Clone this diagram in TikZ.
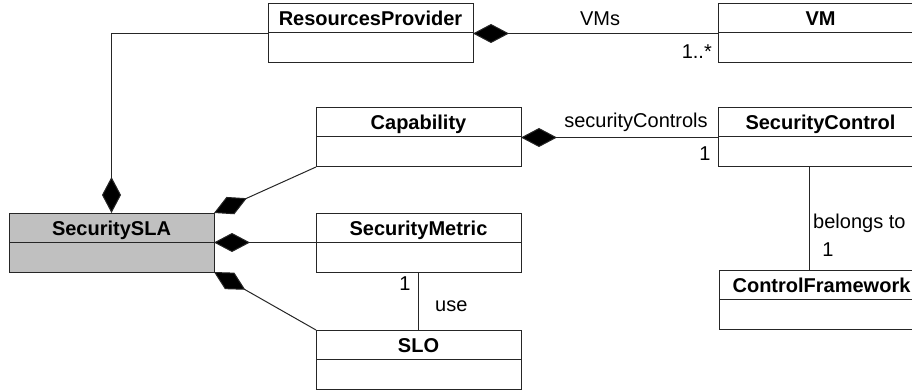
\documentclass[tikz,border=0pt]{standalone}
\usepackage{fontspec}
\setmainfont{Liberation Sans}
\usetikzlibrary{arrows.meta}
\definecolor{linec}{HTML}{262626}
\definecolor{slafill}{HTML}{C0C0C0}
\tikzset{
  umlbox/.style={draw=linec, line width=1pt, fill=white, rectangle, inner sep=0pt, outer sep=0pt,
    minimum width=205pt, minimum height=59pt, anchor=north west},
  titletext/.style={font=\fontsize{20}{24}\selectfont\bfseries, text=black, inner sep=0pt, anchor=base},
  lbl/.style={font=\fontsize{20}{24}\selectfont, text=black, inner sep=0pt},
  conn/.style={draw=linec, line width=1pt},
  comp/.style={conn, {Diamond[length=36pt,width=19pt,fill=black]}-}
}
\newcommand{\umldivider}[1]{\draw[conn] ([yshift=-29pt]#1.north west) -- ([yshift=-29pt]#1.north east);}
\begin{document}
\begin{tikzpicture}[x=1pt,y=-1pt]
\useasboundingbox (0,0) rectangle (912,390);
\clip (0,0) rectangle (912,390);
% boxes
\node[umlbox] (rp) at (268,4) {};
\node[umlbox] (vm) at (718,4) {};
\node[umlbox] (cap) at (316,108) {};
\node[umlbox] (sc) at (718,108) {};
\node[umlbox, fill=slafill] (sla) at (9,213) {};
\node[umlbox] (sm) at (316,213) {};
\node[umlbox] (slo) at (316,330) {};
\node[umlbox] (cf) at (719,270) {};
\umldivider{rp}
\umldivider{vm}
\umldivider{cap}
\umldivider{sc}
\umldivider{sla}
\umldivider{sm}
\umldivider{slo}
\umldivider{cf}
% titles
\node[titletext] (rpT) at ([yshift=-22pt]rp.north) {ResourcesProvider};
\node[titletext] (vmT) at ([yshift=-22pt]vm.north) {VM};
\node[titletext] (capT) at ([yshift=-22pt]cap.north) {Capability};
\node[titletext] (scT) at ([yshift=-22pt]sc.north) {SecurityControl};
\node[titletext] (slaT) at ([yshift=-22pt]sla.north) {SecuritySLA};
\node[titletext] (smT) at ([yshift=-22pt]sm.north) {SecurityMetric};
\node[titletext] (sloT) at ([yshift=-22pt]slo.north) {SLO};
\node[titletext] (cfT) at ([yshift=-22pt]cf.north) {ControlFramework};
% connectors
\draw[comp] (sla.north) |- (rp.west);
\draw[comp] (rp.east) -- (vm.west);
\draw[comp] (cap.east) -- (sc.west);
\draw[comp] (sla.north east) -- (cap.south west);
\draw[comp] (sla.east) -- (sm.west);
\draw[comp] (sla.south east) -- (slo.north west);
\draw[conn] (sm.south) -- (slo.north);
\draw[conn] ([xshift=-11.5pt]sc.south) -- ([xshift=-11.5pt]sc.south |- cf.north);
% labels
\node[lbl, anchor=base] (lvms) at (600,26) {VMs};
\node[lbl, anchor=base east] (lvmm) at (712,59) {1..*};
\node[lbl, anchor=base] (lsc) at (636,128) {securityControls};
\node[lbl, anchor=base] (lscm) at (705,161) {1};
\node[lbl, anchor=base] (lsmm) at (405,290) {1};
\node[lbl, anchor=base west] (luse) at (435,311) {use};
\node[lbl, anchor=base west] (lbel) at (813,228) {belongs to};
\node[lbl, anchor=base] (lcfm) at (828,256) {1};
\end{tikzpicture}
\end{document}
